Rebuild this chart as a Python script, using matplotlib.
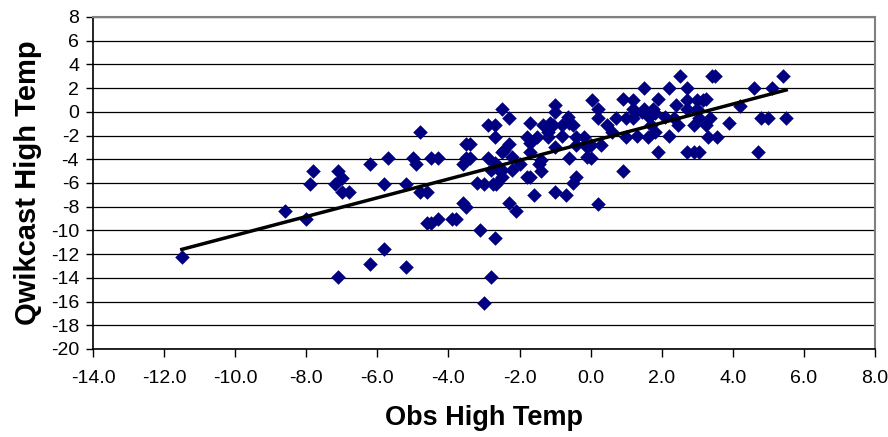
import numpy as np
import matplotlib
matplotlib.use("Agg")
import matplotlib.pyplot as plt

plt.rcParams['font.family'] = ['Liberation Sans', 'DejaVu Sans']

obs = [
    -11.5, -8.6, -8.0, -7.9, -7.8, -7.2, -7.1, -7.0, -7.0, -6.8, -7.1, -6.2, -6.2,
    -5.7, -5.8, -5.8, -5.2,
    -4.8, -5.0, -4.9, -5.2, -4.8, -4.6, -4.5, -4.3, -4.6, -4.5, -4.3, -3.9, -3.8,
    -3.6, -3.5, -3.6, -3.5, -3.4, -3.5, -3.4, -3.1, -2.7, -2.8, -3.0, -3.2, -3.0,
    -2.75, -2.65, -2.9, -2.7, -2.9, -2.7, -2.7, -2.5, -2.3, -2.5, -2.3, -2.2, -2.6,
    -2.5, -2.2, -2.0, -2.3, -2.1, -1.8, -1.7, -1.7, -1.7, -1.8, -1.7, -1.6, -1.5,
    -1.35, -1.4, -1.45, -1.2, -1.05, -1.0, -1.0, -1.0, -1.0, -0.8, -0.8, -0.65,
    -0.5, -0.7, -0.6, -0.4, -0.4, -0.5, -0.4, 0.0, 0.0, 0.05, 0.2, 0.2, 0.2, 0.6,
    -1.2, -0.6, -2.45, -2.8, -1.4, -0.2, -2.5, -1.15, -0.1, -0.1,
    0.3, 0.45, 0.7, 0.9, 1.0, 1.0, 0.9, 1.2, 1.2, 1.2, 1.3, 1.5, 1.5, 1.6, 1.65,
    1.75, 1.7, 1.8, 1.9, 1.9, 2.1, 2.2, 2.2, 2.4, 2.35, 2.45, 2.5, 2.7, 2.7, 2.7,
    2.7, 2.9, 2.9, 3.0, 3.05, 3.05, 3.25, 3.25, 3.3, 3.35, 3.4, 3.5, 3.55, 3.9,
    4.2, 4.6, 4.7, 4.8, 5.0, 5.1, 5.4, 5.5,
    1.25, 1.45, 1.8, 3.0, 3.15,
]
qwik = [
    -12.2, -8.4, -9.0, -6.1, -5.0, -6.1, -5.0, -5.6, -6.8, -6.8, -13.9, -4.4, -12.8,
    -3.9, -6.1, -11.6, -13.1,
    -1.7, -3.9, -4.4, -6.1, -6.8, -6.8, -3.9, -3.9, -9.4, -9.4, -9.0, -9.0, -9.0,
    -7.7, -8.0, -4.4, -3.9, -3.9, -2.7, -2.7, -10.0, -10.6, -13.9, -16.1, -6.0, -6.1,
    -6.1, -6.1, -3.9, -4.3, -1.1, -1.1, -2.1, 0.2, -0.5, -3.4, -2.7, -3.8, -4.8,
    -5.5, -4.9, -4.4, -7.7, -8.4, -2.1, -0.9, -2.6, -3.4, -5.5, -5.5, -7.0, -2.1,
    -1.1, -5.0, -4.4, -2.1, -1.1, 0.6, 0.0, -3.0, -6.8, -2.0, -1.1, -0.4,
    -1.1, -7.0, -3.9, -2.1, -5.5, -6.0, -2.8, -2.8, -3.9, 1.0, 0.2, -0.5, -7.8, -1.7,
    -1.7, -0.9, -3.2, -4.9, -4.1, -2.1, -4.9, -0.9, -3.8, -3.0,
    -2.8, -1.1, -0.5, 1.1, -0.5, -2.1, -5.0, 1.0, 0.2, -0.5, -2.0, 2.0, 0.2, -2.1, -0.4,
    0.2, -1.1, -1.7, 1.1, -3.4, -0.4, 2.0, -2.0, 0.6, -0.5, -1.1, 3.0, 2.0, 1.0, 0.2,
    -3.4, -1.1, -3.4, 1.0, -3.4, -0.5, 1.1, -1.1, -2.1, -0.5, 3.0, 3.0, -2.1, -0.9,
    0.5, 2.0, -3.4, -0.5, -0.5, 2.0, 3.0, -0.5,
    0.0, 0.0, -0.1, 0.2, 1.0,
]

x_ticks = np.arange(-14, 8.01, 2)
y_ticks = np.arange(-20, 8.01, 2)

fig = plt.figure(figsize=(8.88, 4.37), dpi=100)
ax = fig.add_axes([0.1047, 0.2014, 0.8807, 0.7597])

ax.set_xlim(-14, 8)
ax.set_ylim(-20, 8)
ax.set_xticks(x_ticks)
ax.set_xticklabels([f'{v:.1f}' for v in x_ticks])
ax.set_yticks(y_ticks)
ax.set_yticklabels([f'{int(v)}' for v in y_ticks])

ax.yaxis.grid(True, color='black', linewidth=0.9)
ax.set_axisbelow(True)

ax.scatter(obs, qwik, marker='D', s=55, color='#000080', linewidths=0, zorder=3)

# linear trend line
k, b = np.polyfit(obs, qwik, 1)
xs = np.array([min(obs), max(obs)])
ax.plot(xs, k * xs + b, color='black', linewidth=2.5, zorder=4)

for side in ['top', 'right']:
    ax.spines[side].set_color('#808080')
    ax.spines[side].set_linewidth(1.5)
for side in ['left', 'bottom']:
    ax.spines[side].set_color('black')
    ax.spines[side].set_linewidth(1.2)

ax.tick_params(axis='x', direction='out', length=6, width=1, pad=9, labelsize=14)
ax.tick_params(axis='y', direction='out', length=5, width=1, pad=5, labelsize=14)

ax.set_xlabel('Obs High Temp', fontsize=19.5, fontweight='bold', labelpad=13)
ax.set_ylabel('Qwikcast High Temp', fontsize=21, fontweight='bold', labelpad=6)

fig.savefig('out.png', dpi=100)
